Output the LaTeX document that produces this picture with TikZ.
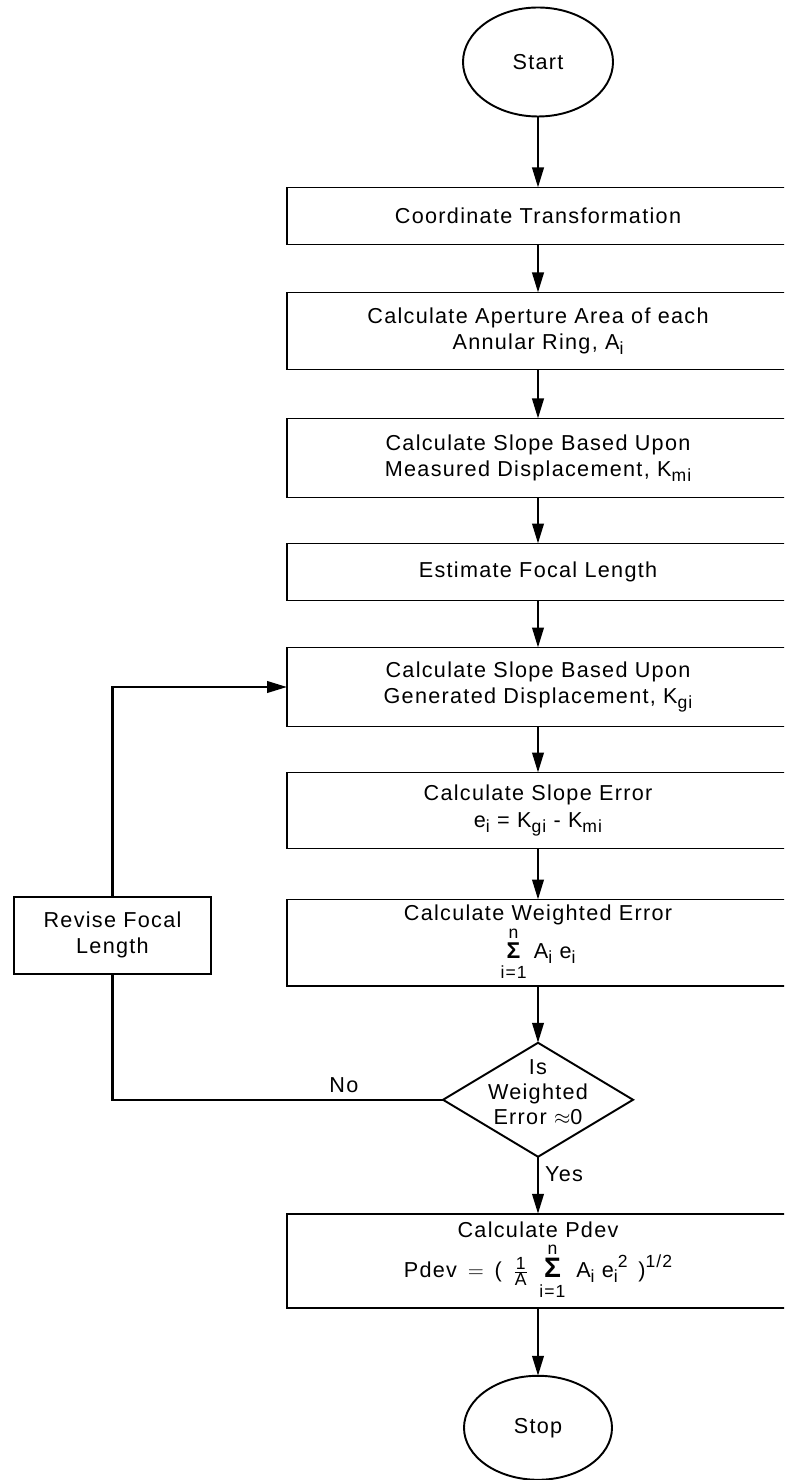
\documentclass[tikz,border=0pt]{standalone}
\usepackage{amsmath}
\usepackage{fontspec}
\setmainfont{Liberation Sans}[LetterSpace=6]
\usetikzlibrary{shapes, arrows.meta, positioning}
\newcommand{\subtext}[1]{\raisebox{-0.45ex}{\fontsize{10}{10}\selectfont #1}}
\newcommand{\suptext}[1]{\raisebox{0.9ex}{\fontsize{10}{10}\selectfont #1}}
\newcommand{\sumin}[1]{$\mathop{\text{\fontsize{#1}{#1}\selectfont\bfseries Σ}}\limits_{\text{\fontsize{10}{10}\selectfont\rule{0pt}{9.5pt}i=1}}^{\text{\fontsize{10}{10}\selectfont n}}$}

\begin{document}
\begin{tikzpicture}
        \tikzstyle{process}=[draw, rectangle, line width=1.1pt, outer sep=0pt, minimum width=10.04cm, inner sep=3pt, align=center, font=\fontsize{12.3}{15}\selectfont]
        \tikzstyle{terminal}=[draw, ellipse, line width=1.1pt, outer sep=0pt, font=\fontsize{12.3}{15}\selectfont]
        \tikzstyle{decision}=[draw, diamond, line width=1.1pt, outer sep=0pt, inner sep=0pt, minimum width=3.8cm, minimum height=2.28cm, font=\fontsize{12.3}{14}\selectfont]
        \tikzstyle{arrow} = [-{Triangle[length=4mm, width=2.3mm]}, line width=1.4pt]
        \tikzstyle{line} = [line width=1.4pt]

        \useasboundingbox (0,0) rectangle (15.68,-29.6);
        \clip (0,0) rectangle (15.68,-29.6);

        \node[terminal, minimum width=3cm, minimum height=2.18cm] (start) at (10.76,-1.24) {Start};
        \node[process, minimum height=1.14cm, below = 1.42cm of start] (coord) {Coordinate Transformation};
        \node[process, minimum height=1.54cm, below = 0.96cm of coord] (aperture) {Calculate Aperture Area of each\\Annular Ring, A\subtext{i}};
        \node[process, minimum height=1.58cm, below = 0.98cm of aperture] (measured) {Calculate Slope Based Upon\\Measured Displacement, K\subtext{mi}};
        \node[process, minimum height=1.14cm, below = 0.92cm of measured] (estimate) {Estimate Focal Length};
        \node[process, minimum height=1.58cm, below = 0.94cm of estimate] (generated) {Calculate Slope Based Upon\\Generated Displacement, K\subtext{gi}};
        \node[process, minimum height=1.52cm, below = 0.92cm of generated] (slope) {Calculate Slope Error\\e\subtext{i} = K\subtext{gi} - K\subtext{mi}};
        \node[process, minimum height=1.7cm, below = 1.02cm of slope] (weighted) {Calculate Weighted Error\\\sumin{13} A\subtext{i} e\subtext{i}};
        \node[decision, below = 1.14cm of weighted] (test) {\smash{\makebox[0pt]{\begin{tabular}{@{}c@{}}Is\\Weighted\\Error $\approx$0\end{tabular}}}};
        \node[process, minimum height=1.88cm, below = 1.14cm of test] (pdev) {Calculate Pdev\\[2pt]Pdev\enspace$=$\enspace(\enspace$\frac{\text{\fontsize{10}{10}\selectfont 1}}{\text{\fontsize{10}{10}\selectfont A}}$\enspace\sumin{16}\enspace A\subtext{i} e\subtext{i}\suptext{2}\enspace)\suptext{1/2}};
        \node[terminal, minimum width=2.96cm, minimum height=2.08cm, below = 1.36cm of pdev] (stop) {Stop};

        \node[process, minimum width=3.94cm, minimum height=1.54cm, left = 1.52cm of weighted, yshift=0.15cm] (revise) {Revise Focal\\Length};

        \draw[arrow] (start) -- (coord);
        \draw[arrow] (coord) -- (aperture);
        \draw[arrow] (aperture) -- (measured);
        \draw[arrow] (measured) -- (estimate);
        \draw[arrow] (estimate) -- (generated);
        \draw[arrow] (generated) -- (slope);
        \draw[arrow] (slope) -- (weighted);
        \draw[arrow] (weighted) -- (test);
        \draw[arrow] (test) -- node[right, pos=0.3, font=\fontsize{12.3}{14}\selectfont] {Yes} (pdev);
        \draw[arrow] (pdev) -- (stop);
        \draw[line] (test.west) -| node[above, pos=0.15, font=\fontsize{12.3}{14}\selectfont] {No} (revise.south);
        \draw[arrow] (revise.north) |- (generated.west);
    \end{tikzpicture}
\end{document}
